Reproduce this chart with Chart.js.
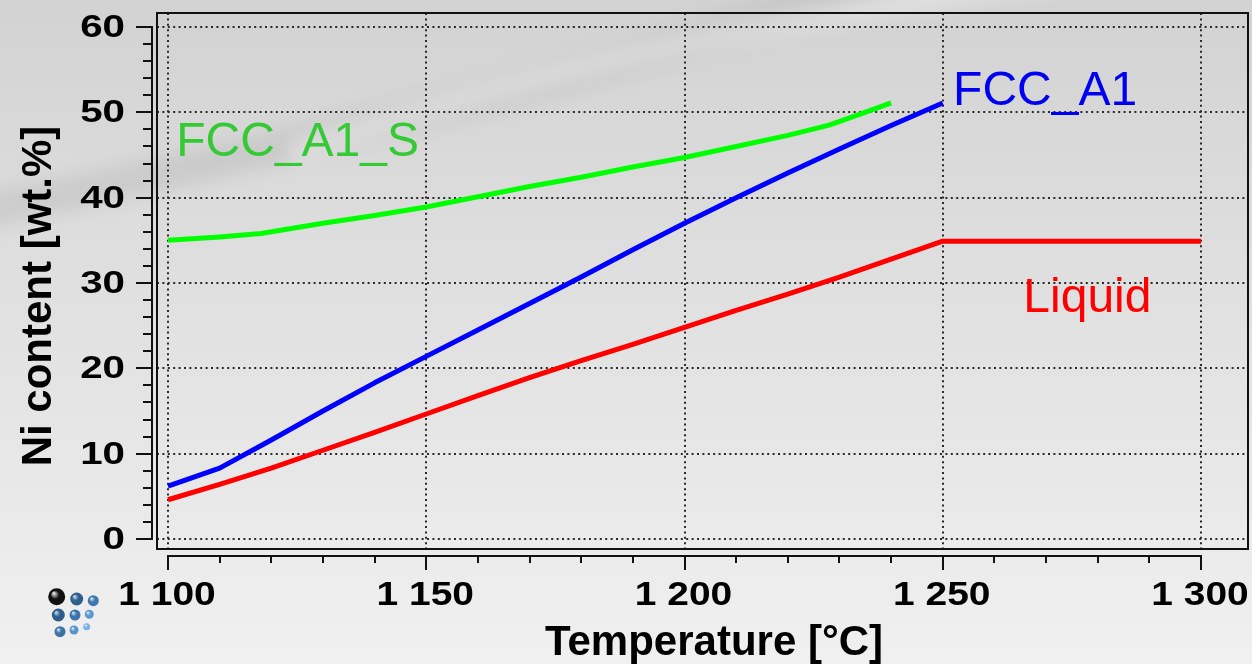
<!DOCTYPE html>
<html>
<head>
<meta charset="utf-8">
<script src="https://cdn.jsdelivr.net/npm/chart.js@4"></script>
<style>
  html, body { margin: 0; padding: 0; overflow: hidden; background: #e2e2e2; }
  #wrap { width: 1252px; height: 664px; }
</style>
</head>
<body>
<div id="wrap"><canvas id="chart" width="1252" height="664"></canvas></div>
<script>
// Ni content of the phases vs temperature
const tempFcc   = [1100, 1110, 1120, 1130, 1140, 1150, 1160, 1170, 1180, 1190, 1200, 1210, 1220, 1230, 1240, 1250];
const niFccA1   = [6.2, 8.3, 11.6, 15.0, 18.3, 21.4, 24.5, 27.6, 30.7, 33.9, 37.0, 40.0, 42.9, 45.7, 48.45, 51.1];

const tempFccS  = [1100, 1110, 1118, 1130, 1140, 1150, 1160, 1170, 1180, 1190, 1200, 1210, 1220, 1228, 1234, 1240];
const niFccA1S  = [35.0, 35.4, 35.8, 37.0, 37.9, 38.9, 40.1, 41.3, 42.4, 43.6, 44.7, 46.0, 47.3, 48.5, 49.8, 51.1];

const tempLiq   = [1100, 1110, 1120, 1130, 1140, 1150, 1160, 1170, 1180, 1190, 1200, 1210, 1220, 1230, 1240, 1250, 1300];
const niLiquid  = [4.6, 6.4, 8.3, 10.4, 12.5, 14.65, 16.8, 18.9, 20.9, 22.8, 24.8, 26.8, 28.7, 30.7, 32.8, 34.9, 34.9];

const xTicks      = [1100, 1150, 1200, 1250, 1300];
const xTickLabels = ['1 100', '1 150', '1 200', '1 250', '1 300'];
const yTicks      = [0, 10, 20, 30, 40, 50, 60];
const yTickLabels = ['0', '10', '20', '30', '40', '50', '60'];
const xMinorStep = 10;
const yMinorStep = 2;

const xTitle = 'Temperature [°C]';
const yTitle = 'Ni content [wt.%]';

// phase names, anchored in data coordinates (left edge, baseline)
const phaseLabels = [
  { text: 'FCC_A1_S', x: 1101.6, y: 44.9, color: '#36c936' },
  { text: 'FCC_A1',   x: 1252.0, y: 50.85, color: '#0000f0' },
  { text: 'Liquid',   x: 1265.6, y: 26.6, color: '#ff0000' }
];

const toXY = (xs, ys) => xs.map((x, i) => ({ x: x, y: ys[i] }));

const SANS = '"Liberation Sans", Arial, Helvetica, sans-serif';

const backgroundPlugin = {
  id: 'pageBackground',
  beforeDraw(chart) {
    const ctx = chart.ctx, w = chart.width, h = chart.height;
    ctx.save();
    const g = ctx.createLinearGradient(0, 0, 0, h);
    g.addColorStop(0, '#d2d2d2');
    g.addColorStop(0.45, '#e0e0e0');
    g.addColorStop(1, '#f0f0f0');
    ctx.fillStyle = g;
    ctx.fillRect(0, 0, w, h);

    // soft swooshes in the backdrop
    ctx.filter = 'blur(8px)';
    ctx.lineCap = 'round';
    ctx.strokeStyle = 'rgba(140,140,140,0.18)';
    ctx.lineWidth = 34;
    ctx.beginPath();
    ctx.moveTo(-60, 220);
    ctx.quadraticCurveTo(450, 120, 920, -30);
    ctx.stroke();
    ctx.strokeStyle = 'rgba(255,255,255,0.30)';
    ctx.lineWidth = 26;
    ctx.beginPath();
    ctx.moveTo(300, 150);
    ctx.quadraticCurveTo(650, 30, 1060, -20);
    ctx.stroke();
    ctx.filter = 'none';

    // little sphere logo
    const balls = [
      [56.7, 596.7, 8.5, '#d8d8d8', '#111111'],
      [76.7, 599.0, 6.5, '#b8d0e8', '#2e5f8c'],
      [93.3, 600.7, 5.5, '#c8dcf0', '#3f78ad'],
      [58.3, 615.0, 6.5, '#b8d0e8', '#2d5d88'],
      [75.0, 615.0, 5.5, '#c8dcf0', '#3b74a8'],
      [89.3, 614.3, 4.5, '#d8e8f8', '#5c98d0'],
      [60.0, 631.7, 5.5, '#c8dcf0', '#3c72a4'],
      [74.0, 630.0, 4.5, '#d8e8f8', '#5a94cc'],
      [86.7, 626.7, 3.5, '#e0eefa', '#78b2e4']
    ];
    ctx.filter = 'blur(0.6px)';
    balls.forEach(([x, y, r, c0, c1]) => {
      const rg = ctx.createRadialGradient(x - r * 0.35, y - r * 0.4, r * 0.1, x, y, r);
      rg.addColorStop(0, c0);
      rg.addColorStop(0.45, c1);
      rg.addColorStop(1, c1);
      ctx.fillStyle = rg;
      ctx.beginPath();
      ctx.arc(x, y, r, 0, Math.PI * 2);
      ctx.fill();
    });
    ctx.filter = 'none';
    ctx.restore();
  }
};

const gridPlugin = {
  id: 'dottedGrid',
  beforeDatasetsDraw(chart) {
    const { ctx, chartArea: a, scales: { x, y } } = chart;
    ctx.save();
    ctx.strokeStyle = '#2a2a2a';
    ctx.lineWidth = 2;
    ctx.setLineDash([2, 3.4]);
    xTicks.forEach(v => {
      const px = Math.round(x.getPixelForValue(v));
      ctx.beginPath();
      ctx.moveTo(px, a.top);
      ctx.lineTo(px, a.bottom);
      ctx.stroke();
    });
    yTicks.forEach(v => {
      const py = Math.round(y.getPixelForValue(v));
      ctx.beginPath();
      ctx.moveTo(a.left, py);
      ctx.lineTo(a.right, py);
      ctx.stroke();
    });
    ctx.restore();
  }
};

const axesPlugin = {
  id: 'offsetAxes',
  afterDatasetsDraw(chart) {
    const { ctx, chartArea: a, scales: { x, y } } = chart;
    ctx.save();
    ctx.setLineDash([]);
    ctx.strokeStyle = '#111111';
    ctx.lineWidth = 2;
    // frame
    ctx.strokeRect(a.left, a.top, a.right - a.left, a.bottom - a.top);

    // x axis below the frame
    const xLineY = a.bottom + 7;
    const x0 = x.getPixelForValue(xTicks[0]);
    const x1 = x.getPixelForValue(xTicks[xTicks.length - 1]);
    ctx.beginPath();
    ctx.moveTo(x0 - 1, xLineY);
    ctx.lineTo(x1 + 1, xLineY);
    ctx.stroke();
    for (let v = xTicks[0]; v <= xTicks[xTicks.length - 1]; v += xMinorStep) {
      const px = Math.round(x.getPixelForValue(v));
      const major = xTicks.includes(v);
      ctx.beginPath();
      ctx.moveTo(px, xLineY);
      ctx.lineTo(px, xLineY + (major ? 14 : 7));
      ctx.stroke();
    }

    // y axis left of the frame
    const yLineX = a.left - 5;
    const y0 = y.getPixelForValue(yTicks[0]);
    const y1 = y.getPixelForValue(yTicks[yTicks.length - 1]);
    ctx.beginPath();
    ctx.moveTo(yLineX, y0 + 1);
    ctx.lineTo(yLineX, y1 - 1);
    ctx.stroke();
    for (let v = yTicks[0]; v <= yTicks[yTicks.length - 1]; v += yMinorStep) {
      const py = Math.round(y.getPixelForValue(v));
      const major = yTicks.includes(v);
      ctx.beginPath();
      ctx.moveTo(yLineX, py);
      ctx.lineTo(yLineX - (major ? 16 : 9), py);
      ctx.stroke();
    }

    // tick labels (wide bold digits)
    ctx.fillStyle = '#000000';
    ctx.textBaseline = 'middle';
    ctx.font = 'bold 31px ' + SANS;
    ctx.textAlign = 'right';
    yTicks.forEach((v, i) => {
      const py = y.getPixelForValue(v);
      ctx.save();
      ctx.translate(125, py + 1.5);
      ctx.scale(1.3, 1);
      ctx.fillText(yTickLabels[i], 0, 0);
      ctx.restore();
    });
    ctx.font = 'bold 33px ' + SANS;
    ctx.textAlign = 'center';
    xTicks.forEach((v, i) => {
      const px = x.getPixelForValue(v);
      ctx.save();
      ctx.translate(px - 1, 596);
      ctx.scale(1.18, 1);
      ctx.fillText(xTickLabels[i], 0, 0);
      ctx.restore();
    });

    // axis titles
    ctx.font = 'bold 42px ' + SANS;
    ctx.textAlign = 'center';
    ctx.textBaseline = 'alphabetic';
    ctx.fillText(xTitle, 714, 655);
    ctx.save();
    ctx.translate(51, 296);
    ctx.rotate(-Math.PI / 2);
    ctx.fillText(yTitle, 0, 0);
    ctx.restore();

    // phase names
    ctx.font = '48px ' + SANS;
    ctx.textAlign = 'left';
    phaseLabels.forEach(p => {
      ctx.fillStyle = p.color;
      ctx.fillText(p.text, x.getPixelForValue(p.x), y.getPixelForValue(p.y));
    });
    ctx.restore();
  }
};

new Chart(document.getElementById('chart'), {
  type: 'scatter',
  data: {
    datasets: [
      { label: 'FCC_A1_S', data: toXY(tempFccS, niFccA1S), borderColor: '#00ff00' },
      { label: 'FCC_A1',   data: toXY(tempFcc, niFccA1),   borderColor: '#0000ff' },
      { label: 'Liquid',   data: toXY(tempLiq, niLiquid),  borderColor: '#ff0000' }
    ]
  },
  options: {
    responsive: false,
    animation: false,
    devicePixelRatio: 1,
    showLine: true,
    layout: { padding: { left: 157, right: 4, top: 13, bottom: 115 } },
    elements: {
      point: { radius: 0, hoverRadius: 0 },
      line: { borderWidth: 5, tension: 0, fill: false, borderCapStyle: 'butt', borderJoinStyle: 'round' }
    },
    scales: {
      x: { type: 'linear', min: 1097.87, max: 1309.1, display: false },
      y: { type: 'linear', min: -1.172, max: 61.64, display: false }
    },
    plugins: { legend: { display: false }, tooltip: { enabled: false } }
  },
  plugins: [backgroundPlugin, gridPlugin, axesPlugin]
});
</script>
</body>
</html>
